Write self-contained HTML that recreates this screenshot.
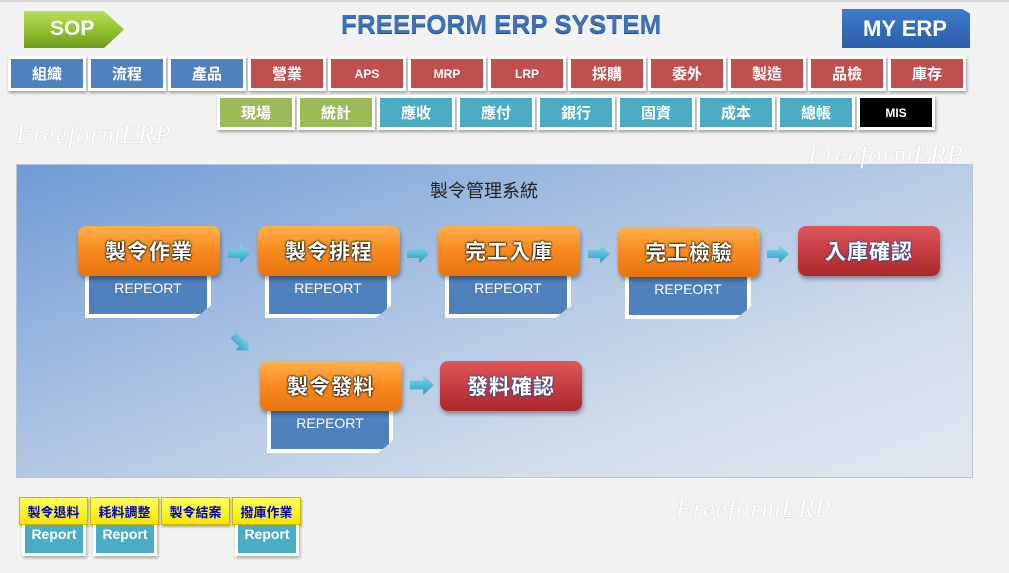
<!DOCTYPE html>
<html><head><meta charset="utf-8"><style>
*{margin:0;padding:0;box-sizing:border-box}
body{width:1009px;height:573px;background:#f2f2f2;position:relative;overflow:hidden;font-family:"Liberation Sans","Noto Sans CJK TC",sans-serif}
.a{position:absolute}
.btn{position:absolute;width:78px;height:35px;background:#fff;box-shadow:1px 2px 3px rgba(0,0,0,.35);padding:3px}
.btn div{width:100%;height:100%;color:#fff;font-weight:bold;font-size:15px;display:flex;align-items:center;justify-content:center}
.b{background:#4f81bd}.r{background:#c0504d}.g{background:#9bbb59}.c{background:#4bacc6}.k{background:#000}
.sm{font-size:12px!important}
.or{position:absolute;width:142px;height:50px;border-radius:8px;background:linear-gradient(#ffb04a,#f7891e 50%,#e87410);box-shadow:1px 3px 4px rgba(0,0,0,.35);display:flex;align-items:center;justify-content:center;font-size:21px;color:#fff;font-weight:bold;text-shadow:0 0 2px #000,0 0 2px #000;letter-spacing:1px;z-index:2}
.rd{background:linear-gradient(#e0575a,#c0393c 60%,#a8292c)}
.rd span{color:#fff;text-shadow:0 0 2px #1a4fa0,0 0 2px #1a4fa0}
.rep{position:absolute;width:126px;height:42px;background:#4f81bd;border:4px solid #fff;border-top:none;box-shadow:1px 2px 3px rgba(0,0,0,.3);color:#fff;font-size:14px;text-align:center;padding-top:4px;clip-path:polygon(0 0,100% 0,100% 70%,88% 100%,0 100%)}
.arr{position:absolute;width:22px;height:18px;background:linear-gradient(#7fdcef,#2a9cc0);clip-path:polygon(0 28%,55% 28%,55% 0,100% 50%,55% 100%,55% 72%,0 72%)}
.wm{position:absolute;font-family:"Liberation Serif",serif;font-style:italic;font-size:26px;color:#fff;text-shadow:0 0 1px #aaa;letter-spacing:1px}
.y{position:absolute;width:69px;height:28px;background:linear-gradient(#ffff60,#f5e600);border:1px solid #c9b800;color:#0000c0;font-weight:bold;font-size:13px;display:flex;align-items:center;justify-content:center;box-shadow:1px 2px 2px rgba(0,0,0,.3)}
.rp{position:absolute;width:64px;height:31px;background:#4bacc6;border:3px solid #fff;border-top:none;color:#fff;font-weight:bold;font-size:14px;text-align:center;padding-top:1px;box-shadow:1px 2px 3px rgba(0,0,0,.3)}
</style></head><body>
<div class="a" style="left:0;top:0;width:1009px;height:2px;background:#d8d8d8"></div>
<div class="a" style="left:24px;top:11px;width:100px;height:37px;background:linear-gradient(#b8e05a,#8fbf2c 55%,#6e9a1a);clip-path:polygon(0 0,80% 0,100% 50%,80% 100%,0 100%);color:#fff;font-weight:bold;font-size:21px;padding:6px 0 0 26px">SOP</div>
<div class="a" style="left:341px;top:9px;font-size:26px;font-weight:bold;color:#3d72b8;text-shadow:0 1px 0 #1d4f90;white-space:nowrap">FREEFORM ERP SYSTEM</div>
<div class="a" style="left:842px;top:9px;width:128px;height:39px;background:linear-gradient(#3c7ccc,#2a5ea8);clip-path:polygon(0 0,94% 0,100% 12%,100% 100%,0 100%);color:#fff;font-weight:bold;font-size:22px;padding:7px 0 0 21px;box-shadow:1px 2px 3px rgba(0,0,0,.4)">MY ERP</div>

<div class="btn" style="left:8px;top:56px"><div class="b">組織</div></div>
<div class="btn" style="left:88px;top:56px"><div class="b">流程</div></div>
<div class="btn" style="left:168px;top:56px"><div class="b">產品</div></div>
<div class="btn" style="left:248px;top:56px"><div class="r">營業</div></div>
<div class="btn" style="left:328px;top:56px"><div class="r sm">APS</div></div>
<div class="btn" style="left:408px;top:56px"><div class="r sm">MRP</div></div>
<div class="btn" style="left:488px;top:56px"><div class="r sm">LRP</div></div>
<div class="btn" style="left:568px;top:56px"><div class="r">採購</div></div>
<div class="btn" style="left:648px;top:56px"><div class="r">委外</div></div>
<div class="btn" style="left:728px;top:56px"><div class="r">製造</div></div>
<div class="btn" style="left:808px;top:56px"><div class="r">品檢</div></div>
<div class="btn" style="left:888px;top:56px"><div class="r">庫存</div></div>

<div class="btn" style="left:217px;top:95px"><div class="g">現場</div></div>
<div class="btn" style="left:297px;top:95px"><div class="g">統計</div></div>
<div class="btn" style="left:377px;top:95px"><div class="c">應收</div></div>
<div class="btn" style="left:457px;top:95px"><div class="c">應付</div></div>
<div class="btn" style="left:537px;top:95px"><div class="c">銀行</div></div>
<div class="btn" style="left:617px;top:95px"><div class="c">固資</div></div>
<div class="btn" style="left:697px;top:95px"><div class="c">成本</div></div>
<div class="btn" style="left:777px;top:95px"><div class="c">總帳</div></div>
<div class="btn" style="left:857px;top:95px"><div class="k sm">MIS</div></div>

<div class="wm" style="left:16px;top:120px">FreeformERP</div>

<div class="a" style="left:16px;top:164px;width:957px;height:314px;border:1px solid #b8c4d4;background:linear-gradient(160deg,#6f9bd6 0%,#a9c1e2 40%,#d3deeb 75%,#e0e7f0 100%)"></div>
<div class="wm" style="left:808px;top:140px">FreeformERP</div>
<div class="a" style="left:430px;top:177px;font-size:18px;color:#222">製令管理系統</div>

<div class="or" style="left:78px;top:226px">製令作業</div>
<div class="rep" style="left:85px;top:276px">REPEORT</div>
<div class="or" style="left:258px;top:226px">製令排程</div>
<div class="rep" style="left:265px;top:276px">REPEORT</div>
<div class="or" style="left:438px;top:226px">完工入庫</div>
<div class="rep" style="left:445px;top:276px">REPEORT</div>
<div class="or" style="left:618px;top:227px">完工檢驗</div>
<div class="rep" style="left:625px;top:277px">REPEORT</div>
<div class="or rd" style="left:798px;top:226px"><span>入庫確認</span></div>
<div class="or" style="left:260px;top:361px">製令發料</div>
<div class="rep" style="left:267px;top:411px">REPEORT</div>
<div class="or rd" style="left:440px;top:361px"><span>發料確認</span></div>

<div class="arr" style="left:228px;top:245px"></div>
<div class="arr" style="left:407px;top:245px"></div>
<div class="arr" style="left:588px;top:245px"></div>
<div class="arr" style="left:767px;top:245px"></div>
<div class="arr" style="left:230px;top:334px;transform:rotate(45deg)"></div>
<div class="arr" style="left:410px;top:375px;width:24px;height:20px"></div>

<div class="y" style="left:19px;top:497px">製令退料</div>
<div class="y" style="left:90px;top:497px">耗料調整</div>
<div class="y" style="left:161px;top:497px">製令結案</div>
<div class="y" style="left:232px;top:497px">撥庫作業</div>
<div class="rp" style="left:22px;top:525px">Report</div>
<div class="rp" style="left:93px;top:525px">Report</div>
<div class="rp" style="left:235px;top:525px">Report</div>
<div class="wm" style="left:676px;top:494px">FreeformERP</div>
</body></html>
